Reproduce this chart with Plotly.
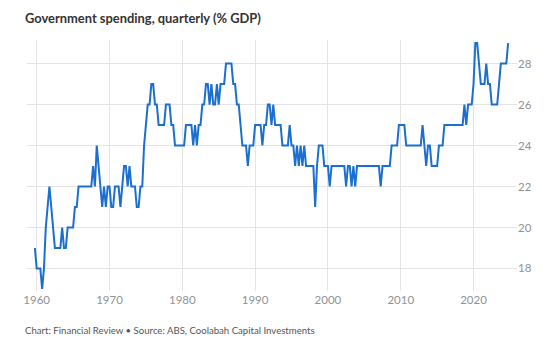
import numpy as np
import pandas as pd
import plotly.graph_objects as go

# Government spending as a share of GDP (%), quarterly, from 1959 Q4
spend_1959 = [19]
spend_1960s = [
    18, 18, 18, 17,  18, 20, 21, 22,  21, 20, 19, 19,  19, 19, 20, 19,
    19, 20, 20, 20,  20, 21, 21, 22,  22, 22, 22, 22,  22, 22, 22, 23,
    22, 24, 23, 22,  21, 22, 21, 22,
]
spend_1970s = [
    22, 21, 21, 22,  22, 22, 21, 22,  23, 23, 22, 23,  22, 22, 22, 21,
    21, 22, 22, 24,  25, 26, 26, 27,  27, 26, 26, 25,  25, 25, 25, 26,
    26, 26, 25, 25,  24, 24, 24, 24,
]
spend_1980s = [
    24, 24, 25, 25,  25, 25, 24, 25,  24, 25, 25, 26,  26, 27, 27, 26,
    27, 26, 26, 27,  26, 27, 27, 27,  28, 28, 28, 28,  27, 27, 26, 26,
    25, 24, 24, 24,  23, 24, 24, 24,
]
spend_1990s = [
    25, 25, 25, 25,  24, 25, 25, 26,  26, 25, 26, 25,  25, 25, 25, 24,
    24, 24, 24, 25,  24, 24, 23, 24,  23, 24, 23, 24,  23, 23, 23, 23,
    23, 21, 23, 24,  24, 24, 23, 23,
]
spend_2000s = [
    23, 22, 23, 23,  23, 23, 23, 23,  23, 23, 22, 23,  23, 22, 23, 22,
    23, 23, 23, 23,  23, 23, 23, 23,  23, 23, 23, 23,  23, 22, 23, 23,
    23, 23, 23, 24,  24, 24, 24, 25,
]
spend_2010s = [
    25, 25, 25, 24,  24, 24, 24, 24,  24, 24, 24, 24,  25, 24, 23, 24,
    24, 23, 23, 23,  23, 24, 24, 24,  25, 25, 25, 25,  25, 25, 25, 25,
    25, 25, 25, 26,  25, 26, 26, 26,
]
spend_2020s = [
    27, 29, 29, 28,  27, 27, 27, 28,  27, 27, 26, 26,  26, 26, 27, 28,
    28, 28, 28, 29,
]

year_ticks = [1960, 1970, 1980, 1990, 2000, 2010, 2020]
value_ticks = [18, 20, 22, 24, 26, 28]

spending = (spend_1959 + spend_1960s + spend_1970s + spend_1980s
            + spend_1990s + spend_2000s + spend_2010s + spend_2020s)
periods = pd.period_range("1959Q4", periods=len(spending), freq="Q")
decimal_year = np.array([p.year + (p.quarter - 1) / 4 for p in periods])

W, H = 554, 348
L, R, T, B = 27, 37, 40, 57
plot_w, plot_h = W - L - R, H - T - B

grid = "#e4e4e4"
tick_font = dict(family="Lato, Noto Sans, sans-serif", size=11.5, color="#929292")

fig = go.Figure(
    go.Scatter(
        x=decimal_year,
        y=spending,
        mode="lines",
        line=dict(color="#1b6fd0", width=2),
        hoverinfo="skip",
    )
)

fig.update_layout(
    width=W,
    height=H,
    margin=dict(l=L, r=R, t=T, b=B),
    paper_bgcolor="white",
    plot_bgcolor="white",
    showlegend=False,
    xaxis=dict(
        range=[1958.67, 2025.97],
        tickvals=year_ticks,
        ticktext=[str(y) for y in year_ticks],
        showgrid=True,
        gridcolor=grid,
        gridwidth=1,
        zeroline=False,
        showline=False,
        ticks="",
        tickfont=tick_font,
    ),
    yaxis=dict(
        range=[16.9, 29.15],
        tickvals=value_ticks,
        side="right",
        showgrid=True,
        gridcolor=grid,
        gridwidth=1,
        zeroline=False,
        showline=False,
        ticks="",
        tickfont=tick_font,
    ),
    annotations=[
        dict(
            text="<b>Government spending, quarterly (% GDP)</b>",
            xref="paper", yref="paper",
            x=(23 - L) / plot_w, y=1 + (T - 18) / plot_h,
            xanchor="left", yanchor="middle",
            showarrow=False,
            font=dict(family="Lato, Noto Sans, sans-serif", size=12.9, color="#333333"),
        ),
        dict(
            text="Chart: Financial Review • Source: ABS, Coolabah Capital Investments",
            xref="paper", yref="paper",
            x=(23 - L) / plot_w, y=-(330 - (H - B)) / plot_h,
            xanchor="left", yanchor="middle",
            showarrow=False,
            font=dict(family="Lato, Noto Sans, sans-serif", size=9.6, color="#555555"),
        ),
    ],
)

fig.write_html("out.html")
